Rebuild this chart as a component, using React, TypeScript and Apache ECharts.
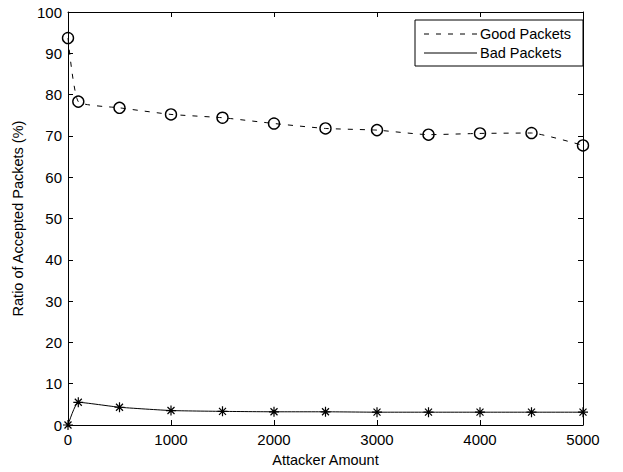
import React, { useEffect, useRef } from "react";
import * as echarts from "echarts";

const attackers = [0, 100, 500, 1000, 1500, 2000, 2500, 3000, 3500, 4000, 4500, 5000];
const goodPackets = [93.7, 78.3, 76.8, 75.2, 74.4, 73.0, 71.8, 71.4, 70.3, 70.6, 70.7, 67.7];
const badPackets = [0, 5.5, 4.3, 3.5, 3.3, 3.2, 3.2, 3.1, 3.1, 3.1, 3.1, 3.1];
const legendNames = ["Good Packets", "Bad Packets"];

const FONT = "Liberation Sans";
const asterisk = "path://M5,0L5,10M0,5L10,5M1.5,1.5L8.5,8.5M1.5,8.5L8.5,1.5";

export default function App() {
  const ref = useRef<HTMLDivElement>(null);
  useEffect(() => {
    const chart = echarts.init(ref.current!, null, { renderer: "svg" });
    const tickCommon = { inside: true, length: 5, lineStyle: { color: "#000", width: 1 } };
    const axisLineCommon = { show: true, onZero: false, lineStyle: { color: "#000", width: 1 } };
    const fmt = (v: number) => String(v);
    chart.setOption({
      animation: false,
      backgroundColor: "#fff",
      grid: { left: 68, right: 40, top: 12, bottom: 43 },
      xAxis: [
        {
          type: "value", min: 0, max: 5000, interval: 1000,
          axisLine: axisLineCommon, axisTick: tickCommon, splitLine: { show: false },
          axisLabel: { color: "#000", fontFamily: FONT, fontSize: 15, margin: 7, formatter: fmt },
          name: "Attacker Amount", nameLocation: "middle", nameGap: 27,
          nameTextStyle: { color: "#000", fontFamily: FONT, fontSize: 14.5 },
        },
        {
          type: "value", min: 0, max: 5000, interval: 1000, position: "top",
          axisLine: axisLineCommon, axisTick: tickCommon, splitLine: { show: false },
          axisLabel: { show: false },
        },
      ],
      yAxis: [
        {
          type: "value", min: 0, max: 100, interval: 10,
          axisLine: axisLineCommon, axisTick: tickCommon, splitLine: { show: false },
          axisLabel: { color: "#000", fontFamily: FONT, fontSize: 15, margin: 6, formatter: fmt },
          name: "Ratio of Accepted Packets (%)", nameLocation: "middle", nameGap: 43,
          nameTextStyle: { color: "#000", fontFamily: FONT, fontSize: 14.5 },
        },
        {
          type: "value", min: 0, max: 100, interval: 10, position: "right",
          axisLine: axisLineCommon, axisTick: tickCommon, splitLine: { show: false },
          axisLabel: { show: false },
        },
      ],
      series: [
        {
          name: legendNames[0], type: "line", smooth: 0.15,
          data: attackers.map((x, i) => [x, goodPackets[i]]),
          symbol: "circle", symbolSize: 11, clip: false, showSymbol: true,
          itemStyle: { color: "rgba(255,255,255,0)", borderColor: "#000", borderWidth: 1.4 },
          lineStyle: { color: "#000", width: 1, type: [5, 7] },
          z: 3,
        },
        {
          name: legendNames[1], type: "line", smooth: 0.15,
          data: attackers.map((x, i) => [x, badPackets[i]]),
          symbol: asterisk, symbolSize: 10, clip: false,
          itemStyle: { color: "#000", borderColor: "#000", borderWidth: 1.2 },
          lineStyle: { color: "#000", width: 1 },
          z: 3,
        },
      ],
      graphic: [
        {
          type: "rect", shape: { x: 415, y: 20, width: 168, height: 46 },
          style: { fill: "#fff", stroke: "#000", lineWidth: 1 }, z: 100,
        },
        {
          type: "line", shape: { x1: 424, y1: 34, x2: 477, y2: 34 },
          style: { stroke: "#000", lineWidth: 1, lineDash: [5, 7] }, z: 101,
        },
        {
          type: "line", shape: { x1: 424, y1: 53, x2: 477, y2: 53 },
          style: { stroke: "#000", lineWidth: 1 }, z: 101,
        },
        {
          type: "text", x: 480, y: 34, z: 101,
          style: { text: legendNames[0], fill: "#000", font: `14.5px '${FONT}'`, textVerticalAlign: "middle" },
        },
        {
          type: "text", x: 480, y: 53, z: 101,
          style: { text: legendNames[1], fill: "#000", font: `14.5px '${FONT}'`, textVerticalAlign: "middle" },
        },
      ],
    });
    return () => chart.dispose();
  }, []);
  return <div ref={ref} style={{ width: 623, height: 472, position: "absolute", left: 0, top: 0 }} />;
}
